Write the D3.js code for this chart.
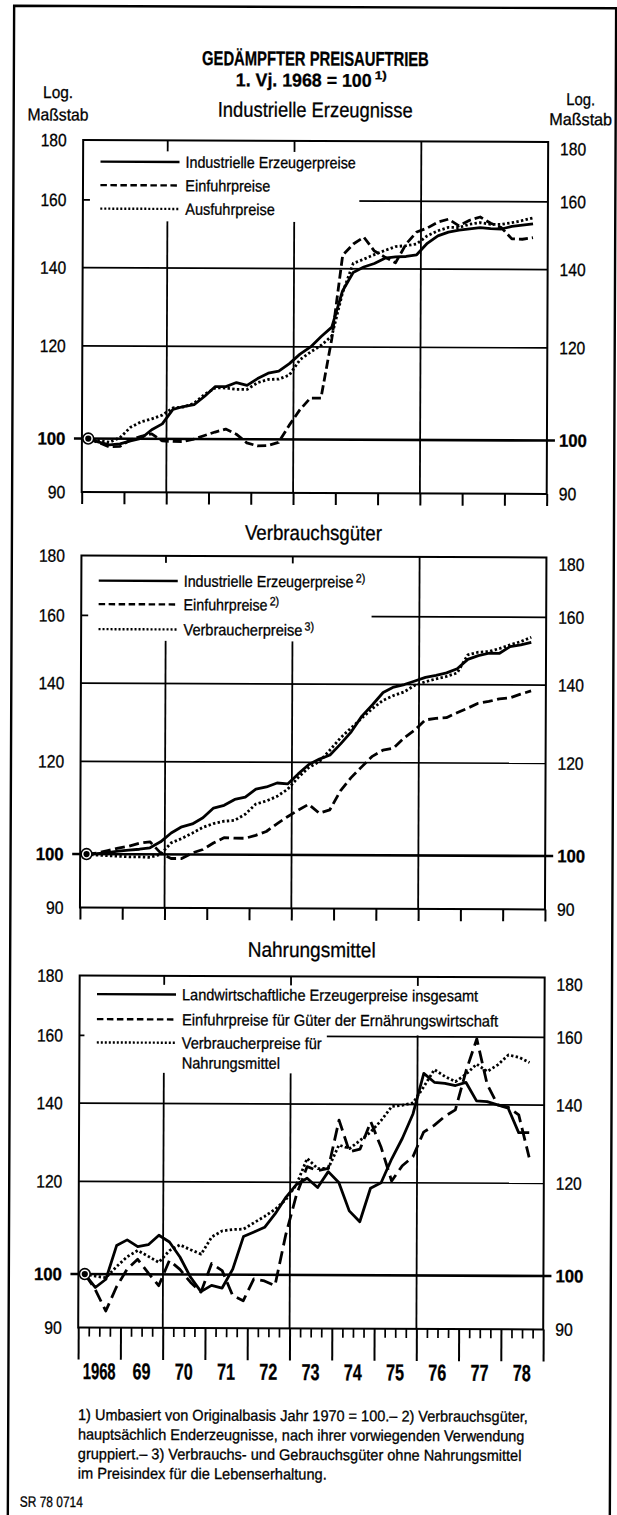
<!DOCTYPE html>
<html>
<head>
<meta charset="utf-8">
<script src="https://cdn.jsdelivr.net/npm/d3@7"></script>
<style>
  html, body { margin: 0; padding: 0; background: #fff; }
  svg { display: block; }
  text { font-family: "Liberation Sans Narrow", "Liberation Sans", Arial, sans-serif; fill: #000; stroke: #000; stroke-width: 0.3px; }
</style>
</head>
<body>
<svg id="chart" width="617" height="1515"></svg>
<script>
// ---- Data: quarterly index values, 1st quarter 1968 = 100 ----
const startYear = 1968;
const yearLabels = ["1968", "69", "70", "71", "72", "73", "74", "75", "76", "77", "78"];
const valueTicks = [90, 100, 120, 140, 160, 180];
const gridValues = [120, 140, 160];
const gridYears = [1970, 1973, 1976];

// Industrielle Erzeugnisse
const industrieErzeuger = [100, 99.3, 98.8, 99.0, 99.6, 100.1, 101.8, 103.0, 106.0, 106.6,
  107.0, 108.8, 110.9, 110.9, 111.8, 111.2, 112.7, 113.9, 114.4, 116.1,
  118.3, 120.0, 122.5, 124.8, 134.0, 139.0, 140.5, 141.5, 143.0, 143.4,
  143.5, 144.0, 147.3, 149.5, 150.6, 151.2, 151.6, 152.0, 151.7, 151.6,
  152.4, 152.8, 153.2];
const industrieEinfuhr = [100, 99.2, 98.4, 98.5, 99.8, 100.5, 101.0, 99.6, 99.5, 99.5,
  100.0, 100.7, 101.4, 102.0, 101.0, 99.3, 98.7, 98.8, 99.4, 102.8,
  106.0, 108.5, 108.5, 121.9, 143.8, 147.0, 149.0, 145.0, 143.3, 141.7,
  147.1, 150.6, 151.8, 153.6, 154.5, 152.5, 154.2, 155.2, 153.3, 152.0,
  148.7, 148.6, 149.1];
const industrieAusfuhr = [100, 99.6, 99.3, 100.2, 102.3, 103.4, 104.0, 104.8, 106.3, 106.5,
  107.3, 109.2, 110.6, 110.6, 110.3, 110.3, 111.8, 112.5, 112.6, 113.5,
  117.0, 118.8, 120.4, 122.6, 133.5, 141.5, 142.7, 144.0, 145.2, 146.3,
  146.6, 147.1, 149.5, 151.0, 152.0, 152.0, 153.0, 153.5, 153.0, 153.0,
  153.5, 154.2, 155.0];

// Verbrauchsgüter
const verbrauchErzeuger = [100, 100.1, 100.3, 100.6, 100.8, 101.0, 101.3, 102.5, 104.3, 105.6,
  106.2, 107.5, 109.6, 110.2, 111.5, 112.0, 113.8, 114.3, 115.2, 115.0,
  117.3, 119.5, 120.8, 121.8, 124.5, 127.5, 131.5, 134.5, 137.8, 139.3,
  140.0, 141.0, 142.0, 142.6, 143.3, 144.5, 147.2, 148.3, 149.0, 149.0,
  151.0, 151.5, 152.3];
const verbrauchEinfuhr = [100, 100.2, 100.7, 101.2, 101.6, 102.2, 102.5, 100.3, 99.2, 99.2,
  100.3, 101.0, 102.3, 103.4, 103.3, 103.3, 103.9, 104.7, 106.3, 107.8,
  109.2, 110.5, 108.6, 109.3, 113.5, 116.5, 119.0, 121.5, 123.0, 123.5,
  126.0, 128.0, 130.6, 131.0, 131.2, 132.5, 133.7, 135.0, 135.5, 136.2,
  136.5, 137.5, 138.4];
const verbrauchVerbraucher = [100, 99.8, 99.7, 99.6, 99.5, 99.5, 99.4, 100.0, 102.3, 103.2,
  104.3, 105.5, 106.3, 106.8, 107.0, 108.3, 110.5, 111.2, 112.2, 113.8,
  116.5, 118.8, 120.2, 123.0, 126.0, 128.5, 131.0, 133.5, 135.7, 137.0,
  138.0, 139.8, 140.8, 141.6, 142.3, 143.3, 148.5, 149.3, 149.5, 150.4,
  151.5, 152.5, 153.8];

// Nahrungsmittel
const nahrungLandwirtschaft = [100, 97.4, 99.0, 105.8, 107.0, 105.6, 106.0, 108.0, 106.6, 103.5,
  99.5, 96.7, 97.9, 97.4, 101.1, 107.8, 108.8, 109.8, 112.8, 116.5,
  119.5, 121.0, 118.8, 122.6, 120.0, 113.5, 111.1, 118.7, 120.0, 125.8,
  131.0, 137.5, 148.9, 146.3, 146.0, 145.4, 146.3, 141.1, 140.9, 140.0,
  139.1, 132.6, 132.6];
const nahrungEinfuhr = [100, 97.0, 93.0, 97.5, 101.0, 103.0, 100.3, 97.8, 102.8, 101.0,
  98.5, 96.6, 102.2, 100.8, 96.0, 95.0, 99.2, 98.8, 97.9, 108.2,
  117.1, 123.8, 122.8, 123.4, 135.7, 127.5, 128.2, 135.3, 128.6, 120.4,
  124.1, 126.3, 132.6, 134.4, 136.8, 138.6, 149.7, 159.4, 145.8, 140.0,
  139.4, 137.3, 126.3];
const nahrungVerbraucher = [100, 99.6, 99.3, 101.5, 103.5, 104.8, 103.6, 102.4, 104.8, 106.0,
  105.0, 104.1, 107.7, 109.0, 109.3, 109.4, 110.8, 112.2, 113.8, 116.0,
  119.5, 125.8, 123.3, 123.4, 129.2, 128.3, 130.4, 132.6, 135.7, 139.5,
  139.8, 140.5, 145.0, 150.0, 148.0, 146.5, 148.7, 151.7, 149.5, 151.5,
  154.5, 153.8, 152.2];

const footnotes = [
  "1) Umbasiert von Originalbasis Jahr 1970 = 100.– 2) Verbrauchsgüter,",
  "hauptsächlich Enderzeugnisse, nach ihrer vorwiegenden Verwendung",
  "gruppiert.– 3) Verbrauchs- und Gebrauchsgüter ohne Nahrungsmittel",
  "im Preisindex für die Lebenserhaltung."
];

const panels = [
  { title: "Industrielle Erzeugnisse",
    series: [industrieErzeuger, industrieEinfuhr, industrieAusfuhr],
    legend: [{ lines: ["Industrielle Erzeugerpreise"] }, { lines: ["Einfuhrpreise"] }, { lines: ["Ausfuhrpreise"] }] },
  { title: "Verbrauchsgüter",
    series: [verbrauchErzeuger, verbrauchEinfuhr, verbrauchVerbraucher],
    legend: [{ lines: ["Industrielle Erzeugerpreise"], sup: "2)" }, { lines: ["Einfuhrpreise"], sup: "2)" }, { lines: ["Verbraucherpreise"], sup: "3)" }] },
  { title: "Nahrungsmittel",
    series: [nahrungLandwirtschaft, nahrungEinfuhr, nahrungVerbraucher],
    legend: [{ lines: ["Landwirtschaftliche Erzeugerpreise insgesamt"] }, { lines: ["Einfuhrpreise für Güter der Ernährungswirtschaft"] }, { lines: ["Verbraucherpreise für", "Nahrungsmittel"] }] }
];

// ---- Layout ----
const L = 80.6, R = 545.6;
const panelTops = [141, 556.5, 976.5];
const panelH = 352;
const titleBaseline = [-24, -16.5, -19.5];
const titleWidths = [195, 137, 128];
const legendRows = [[21.5, 45, 68.5], [25, 48.5, 73.5], [18.5, 43.5, 66.8]];
const legendWidths = [[[170.5], [85], [89.5]], [[170], [84], [119]], [[296.6], [316.6], [140, 98.3]]];
const legendMask = [
  [[L + 7, 11, 357, 81]],
  [[L + 7, 7, 371, 85]],
  [[L + 5, 9, 506, 58.5], [L + 5, 50, 328, 97]]
];
const seriesDash = [
  [null, "9,4", "2.4,2.3"],
  [null, "10,4.5", "2.4,2.3"],
  [null, "13,6", "2.4,2.3"]
];
const legendDash = [null, "6.5,3.5", "2,2"];
const numWidth = d => d === 90 ? 17.5 : d === 100 ? 28 : 26;

const svg = d3.select("#chart");
svg.append("rect").attr("width", 617).attr("height", 1515).attr("fill", "#fff");
const root = svg.append("g").attr("transform", "rotate(0.24 308 757)");

// text squeezed horizontally to a given width (condensed type)
function label(g, str, px, py, o) {
  const holder = g.append("g").attr("transform", `translate(${px},${py})`);
  const t = holder.append("text").text(str)
    .attr("font-size", o.size)
    .attr("font-weight", o.weight || "normal")
    .attr("text-anchor", o.anchor || "start");
  if (o.width) {
    const natural = t.node().getComputedTextLength();
    holder.attr("transform", `translate(${px},${py}) scale(${o.width / natural},1)`);
  }
  return t;
}

// outer border
root.append("path").attr("d", "M11,1525 L11,7 L613,7 L613,1525")
  .attr("fill", "none").attr("stroke", "#000").attr("stroke-width", 2.4);

// headings
label(root, "GEDÄMPFTER PREISAUFTRIEB", 312.5, 65.5, { size: 20, weight: "bold", anchor: "middle", width: 227 });
label(root, "1. Vj. 1968 = 100", 233, 86.5, { size: 18.5, weight: "bold", width: 136 });
label(root, "1)", 372, 79, { size: 11.5, weight: "bold", width: 12 });
label(root, "Log.", 55.3, 99, { size: 17, anchor: "middle", width: 30 });
label(root, "Maßstab", 55.3, 121.5, { size: 17, anchor: "middle", width: 61 });
label(root, "Log.", 578, 104, { size: 17, anchor: "middle", width: 29 });
label(root, "Maßstab", 578, 124, { size: 17, anchor: "middle", width: 63 });

const x = d3.scaleLinear().domain([startYear, startYear + 11]).range([L, R]);
const periodX = i => x(startYear + (i + 0.6) / 4);
const yearBounds = d3.range(startYear, startYear + 12);
const quarterBounds = yearBounds.slice(0, -1).flatMap(v => [v + 0.25, v + 0.5, v + 0.75]);

panels.forEach((p, k) => {
  const top = panelTops[k], bottom = top + panelH;
  const y = d3.scaleLog().domain([90, 180]).range([bottom, top]);
  const g = root.append("g");

  label(g, p.title, 312.5, top + titleBaseline[k], { size: 21, anchor: "middle", width: titleWidths[k] });

  // grid
  g.append("g").selectAll("line").data(gridValues).join("line")
    .attr("x1", L).attr("x2", R).attr("y1", d => y(d)).attr("y2", d => y(d))
    .attr("stroke", "#000").attr("stroke-width", 1.7);
  g.append("g").selectAll("line").data(gridYears).join("line")
    .attr("x1", d => x(d)).attr("x2", d => x(d)).attr("y1", top).attr("y2", bottom)
    .attr("stroke", "#000").attr("stroke-width", 1.8);

  // legend area clears the grid beneath it
  legendMask[k].forEach(r => g.append("rect")
    .attr("x", r[0]).attr("y", top + r[1]).attr("width", r[2] - r[0]).attr("height", r[3] - r[1])
    .attr("fill", "#fff"));

  // frame
  g.append("rect").attr("x", L).attr("y", top).attr("width", R - L).attr("height", panelH)
    .attr("fill", "none").attr("stroke", "#000").attr("stroke-width", 2);

  // bottom ticks
  const yt = g.append("g").attr("transform", `translate(0,${bottom})`)
    .call(d3.axisBottom(x).tickValues(yearBounds).tickSize(k === 2 ? 32 : 12).tickFormat(""));
  yt.select(".domain").remove();
  yt.selectAll("line").attr("stroke", "#000").attr("stroke-width", 2);
  if (k === 2) {
    const qt = g.append("g").attr("transform", `translate(0,${bottom})`)
      .call(d3.axisBottom(x).tickValues(quarterBounds).tickSize(9).tickFormat(""));
    qt.select(".domain").remove();
    qt.selectAll("line").attr("stroke", "#000").attr("stroke-width", 1.7);
  }

  // 100 base line
  g.append("line").attr("x1", L - 8).attr("x2", R + 8).attr("y1", y(100)).attr("y2", y(100))
    .attr("stroke", "#000").attr("stroke-width", 2.6);

  // value labels
  const la = g.append("g").attr("transform", `translate(${L},0)`)
    .call(d3.axisLeft(y).tickValues(valueTicks).tickFormat(d3.format("d")).tickSize(0).tickPadding(16.5));
  const ra = g.append("g").attr("transform", `translate(${R},0)`)
    .call(d3.axisRight(y).tickValues(valueTicks).tickFormat(d3.format("d")).tickSize(0).tickPadding(12));
  [la, ra].forEach(a => {
    a.select(".domain").remove();
    a.selectAll("line").remove();
    a.selectAll("text")
      .attr("font-size", 18)
      .attr("font-weight", d => d === 100 ? "bold" : "normal")
      .attr("textLength", d => numWidth(d)).attr("lengthAdjust", "spacingAndGlyphs");
  });
  ra.selectAll(".tick").filter(d => d === 180).select("text").attr("y", 7);

  // series
  p.series.forEach((s, j) => {
    const line = d3.line().x((d, i) => periodX(i)).y(d => y(d));
    g.append("path").attr("d", line(s))
      .attr("fill", "none").attr("stroke", "#000").attr("stroke-width", 2.8)
      .attr("stroke-linejoin", "round")
      .attr("stroke-dasharray", seriesDash[k][j]);
  });

  // legend
  p.legend.forEach((item, j) => {
    const ry = top + legendRows[k][j];
    g.append("line").attr("x1", 98).attr("x2", 177).attr("y1", ry).attr("y2", ry)
      .attr("stroke", "#000").attr("stroke-width", 2.4).attr("stroke-dasharray", legendDash[j]);
    item.lines.forEach((txt, m) => {
      const w = legendWidths[k][j][m];
      label(g, txt, 183, ry + 5.7 + m * 20, { size: 16, width: w });
      if (item.sup && m === 0) label(g, item.sup, 183 + w + 2, ry + 0.5, { size: 12, width: 9.5 });
    });
  });

  // base-period marker
  const cx = periodX(0), cy = y(p.series[0][0]);
  g.append("circle").attr("cx", cx).attr("cy", cy).attr("r", 5.4)
    .attr("fill", "#fff").attr("stroke", "#000").attr("stroke-width", 1.6);
  g.append("circle").attr("cx", cx).attr("cy", cy).attr("r", 3.1).attr("fill", "#000");
});

// year labels under the last panel
root.append("g").selectAll("text").data(yearLabels).join("text")
  .attr("x", (d, i) => x(startYear + i + 0.5)).attr("y", 1380)
  .attr("text-anchor", "middle").attr("font-size", 23).attr("font-weight", "bold")
  .attr("textLength", d => d.length === 4 ? 33 : 18).attr("lengthAdjust", "spacingAndGlyphs")
  .text(d => d);

// footnotes
const fnWidths = [450, 447, 444, 249];
footnotes.forEach((t, i) => label(root, t, 80.8, 1421 + i * 19.5, { size: 15.5, width: fnWidths[i] }));
label(root, "SR 78 0714", 23, 1508, { size: 15, width: 63 });
</script>
</body>
</html>
